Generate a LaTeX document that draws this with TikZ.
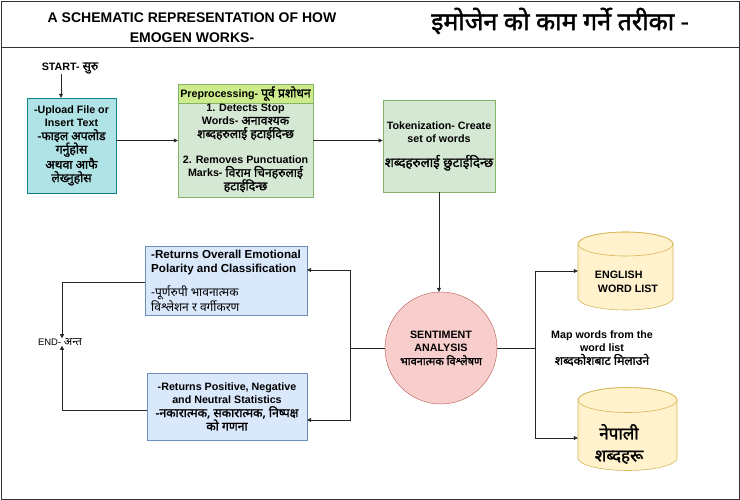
\documentclass[tikz,border=0pt]{standalone}
\usepackage{fontspec}
\setmainfont{Liberation Sans}
\newfontfamily\dev[Script=Devanagari]{Noto Sans}
\newfontfamily\devb[Script=Devanagari,FakeBold=1.6]{Noto Sans}
\usetikzlibrary{arrows.meta,calc}
\definecolor{upfill}{HTML}{B0E3E6}
\definecolor{updraw}{HTML}{0E8088}
\definecolor{grfill}{HTML}{D5E8D4}
\definecolor{grdraw}{HTML}{82B366}
\definecolor{grhead}{HTML}{CDEB8B}
\definecolor{blfill}{HTML}{DAE8FC}
\definecolor{bldraw}{HTML}{6C8EBF}
\definecolor{rdfill}{HTML}{F8CECC}
\definecolor{rddraw}{HTML}{B85450}
\definecolor{ylfill}{HTML}{FFF2CC}
\definecolor{yldraw}{HTML}{D6B656}
\newcommand\dvb[1]{{\devb\fontsize{12.2}{13.6}\selectfont #1}}
\newcommand\dvr[1]{{\dev\fontsize{12}{14.4}\selectfont #1}}
\tikzset{
  boxy/.style={draw, rectangle, inner sep=2pt, align=center, font=\bfseries\fontsize{10.7}{13.4}\selectfont},
  txt/.style={inner sep=0pt, align=center, font=\bfseries\fontsize{10.7}{13.4}\selectfont},
  arr/.style={draw=black!85, line width=0.7pt, -{Triangle[length=4pt,width=4pt]}},
  ln/.style={draw=black!85, line width=0.7pt},
  cylfill/.style={fill=ylfill, draw=yldraw, line width=0.6pt},
}
\begin{document}
\begin{tikzpicture}[x=1pt,y=-1pt]
\useasboundingbox (0,0) rectangle (740,500);
\draw[black!80, line width=0.8pt] (1,1) rectangle (739,499);
\draw[black!80, line width=0.8pt] (1,47) -- (739,47);

% titles
\node[txt, font=\bfseries\fontsize{14}{20}\selectfont] (t1) at (192,28) {A SCHEMATIC REPRESENTATION OF HOW\\EMOGEN WORKS-};
\node[txt, font=\devb\fontsize{25}{28}\selectfont] (t2) at (560,21) {इमोजेन को काम  गर्ने तरीका -};

% start
\node[txt] (start) at (70,68) {START- \dvb{सुरु}};

% upload
\node[boxy, fill=upfill, draw=updraw, minimum width=89pt, minimum height=95pt] (up) at (71.5,145.5)
 {-Upload File or\\Insert Text\\\dvb{-फाइल अपलोड}\\\dvb{गर्नुहोस}\\\dvb{अथवा आफै}\\\dvb{लेख्नुहोस}};

% preprocessing
\node[draw=grdraw, fill=grfill, minimum width=135pt, minimum height=113pt, inner sep=0pt] (pre) at (245.5,140.5) {};
\node[draw=grdraw, fill=grhead, minimum width=135pt, minimum height=19pt, inner sep=0pt,
      font=\bfseries\fontsize{10.7}{12}\selectfont] (preh) at (245.5,93.5) {Preprocessing- \dvb{पूर्व प्रशोधन}};
\node[txt] (pret) at (245.5,148)
 {1. Detects Stop\\Words- \dvb{अनावश्यक}\\\dvb{शब्दहरुलाई हटाईदिन्छ}\\[12pt]2. Removes Punctuation\\Marks- \dvb{विराम चिनहरुलाई}\\\dvb{हटाईदिन्छ}};

% tokenization
\node[boxy, fill=grfill, draw=grdraw, minimum width=112pt, minimum height=92pt] (tok) at (439,146)
 {Tokenization- Create\\set of words\\[11pt]{\devb\fontsize{13.4}{14}\selectfont शब्दहरुलाई छुटाईदिन्छ}};

% sentiment circle
\node[circle, draw=rddraw, fill=rdfill, minimum size=112pt, inner sep=0pt, align=center,
      font=\bfseries\fontsize{10.7}{13.4}\selectfont] (sa) at (441,348)
 {SENTIMENT\\ANALYSIS\\{\devb\fontsize{11}{14.5}\selectfont भावनात्मक विश्लेषण}};

% left boxes
\node[boxy, fill=blfill, draw=bldraw, minimum width=162pt, minimum height=69pt, align=left,
      font=\bfseries\fontsize{11.6}{14.4}\selectfont] (tl) at (226,280.5)
 {-Returns Overall Emotional\\Polarity and Classification\\[10pt]\dvr{-पूर्णरुपी भावनात्मक}\\\dvr{विश्लेशन र वर्गीकरण}};
\node[boxy, fill=blfill, draw=bldraw, minimum width=160pt, minimum height=67pt] (bl) at (227,406.5)
 {-Returns Positive, Negative\\and Neutral Statistics\\\dvb{-नकारात्मक, सकारात्मक, निष्पक्ष}\\\dvb{को गणना}};

% end
\node[txt, font=\fontsize{9.5}{13}\selectfont] (end) at (60,342) {END- {\dev\fontsize{11}{13}\selectfont अन्त}};

% cylinders
\path[cylfill] (578,244) -- (578,298) arc[start angle=180,end angle=360,x radius=47.5pt,y radius=12pt]
  -- (673,244) arc[start angle=0,end angle=180,x radius=47.5pt,y radius=12pt] -- cycle;
\draw[yldraw, line width=0.6pt] (625.5,244) ellipse[x radius=47.5pt,y radius=12pt];
\node[inner sep=0pt, minimum width=95pt, minimum height=20pt] (eng) at (625.5,271) {};
\node[txt, align=left] (engt) at (626.5,282) {ENGLISH\\\hspace*{3pt}WORD LIST};

\path[cylfill] (578,400) -- (578,458) arc[start angle=180,end angle=360,x radius=49.5pt,y radius=12.5pt]
  -- (677,400) arc[start angle=0,end angle=180,x radius=49.5pt,y radius=12.5pt] -- cycle;
\draw[yldraw, line width=0.6pt] (627.5,400) ellipse[x radius=49.5pt,y radius=12.5pt];
\node[inner sep=0pt, minimum width=99pt, minimum height=20pt] (nep) at (627.5,438) {};
\node[txt, font=\devb\fontsize{17}{22}\selectfont] (nept) at (619,444) {नेपाली\\शब्दहरू};

% map text
\node[txt] (map) at (602,348) {Map words from the\\word list\\\dvb{शब्दकोशबाट मिलाउने}};

% connectors
\draw[arr] ([xshift=-9pt]start.south) -- ([xshift=-9pt]start.south |- up.north);
\draw[arr] (up.east |- pre.west) -- (pre.west);
\draw[arr] (pre.east) -- (pre.east -| tok.west);
\draw[arr] (tok.south) -- (tok.south |- sa.north);

\coordinate (jl) at (350,348);
\draw[ln] (sa.west) -- (jl);
\draw[arr] (jl) |- ([yshift=10.5pt]tl.east);
\draw[arr] (jl) |- ([yshift=-13.5pt]bl.east);

\coordinate (je) at (62,0);
\draw[arr] ([yshift=-1.5pt]tl.west) -| (je |- end.north);
\draw[arr] ([yshift=-3.5pt]bl.west) -| (je |- end.south);

\coordinate (jr) at (535,348);
\draw[ln] (sa.east) -- (jr);
\draw[arr] (jr) |- (eng.west);
\draw[arr] (jr) |- (nep.west);
\end{tikzpicture}
\end{document}
